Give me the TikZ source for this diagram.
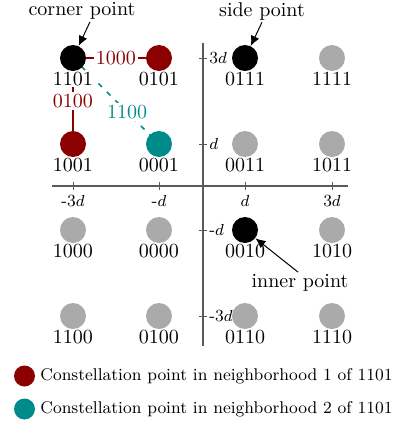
\documentclass[tikz,border=0pt]{standalone}
\usetikzlibrary{arrows.meta}
\definecolor{nbred}{RGB}{139,0,0}
\definecolor{nbteal}{RGB}{0,139,139}
\definecolor{ptgray}{RGB}{170,170,170}
\definecolor{axgray}{RGB}{90,90,90}
\tikzset{
  pt/.style={circle,fill=ptgray,minimum size=13pt,inner sep=0pt},
  ptblack/.style={circle,fill=black,minimum size=13pt,inner sep=0pt},
  ptred/.style={circle,fill=nbred,minimum size=13pt,inner sep=0pt},
  ptteal/.style={circle,fill=nbteal,minimum size=13pt,inner sep=0pt},
  bits/.style={font=\fontsize{10}{12}\selectfont,inner sep=0.8pt,fill=white},
  axis/.style={axgray,line width=0.6pt},
  tick/.style={axgray,line width=0.5pt},
  ticklab/.style={font=\fontsize{8.5}{10}\selectfont,inner sep=1pt},
  nblab/.style={font=\fontsize{10}{12}\selectfont,fill=white,inner sep=1pt},
  callout/.style={-{Latex[length=5pt,width=4.5pt]},line width=0.5pt},
  legdot/.style={circle,minimum size=10.5pt,inner sep=0pt},
  legtext/.style={font=\fontsize{8.5}{10}\selectfont,anchor=west,inner sep=0pt},
}
\begin{document}
\begin{tikzpicture}[x=0.5pt,y=-0.5pt]
\useasboundingbox (0,0) rectangle (393,424);
% axes
\coordinate (xl) at (52,186);
\coordinate (xr) at (348,186);
\coordinate (yt) at (203,43);
\coordinate (yb) at (203,346);
\draw[axis] (xl) -- (xr);
\draw[axis] (yt) -- (yb);
% x ticks
\foreach \x/\l in {73/-3$d$,159/-$d$,245/$d$,332/3$d$}{
  \draw[tick] (\x,182) -- (\x,190);
  \node[ticklab] at (\x,201) {\l};
}
% y ticks
\foreach \y/\l in {58/3$d$,144/$d$,230/-$d$,316/-3$d$}{
  \draw[tick] (199,\y) -- (207,\y);
  \node[ticklab,anchor=west] at (207,\y) {\l};
}
% neighborhood lines
\coordinate (c1101) at (73,58);
\coordinate (c0101) at (159,58);
\coordinate (c1001) at (73,144);
\coordinate (c0001) at (159,144);
\draw[nbred,line width=0.8pt] (c1101) -- node[nblab,text=nbred]{1000} (c0101);
\draw[nbred,line width=0.8pt] (c1101) -- node[nblab,text=nbred]{0100} (c1001);
\draw[nbteal,line width=0.8pt,dash pattern=on 2.5pt off 3.5pt] (c1101) -- node[nblab,text=nbteal,pos=0.63]{1100} (c0001);
% points
\foreach \x/\y/\b/\s in {
  73/58/1101/ptblack, 159/58/0101/ptred, 245/58/0111/ptblack, 332/58/1111/pt,
  73/144/1001/ptred, 159/144/0001/ptteal, 245/144/0011/pt, 332/144/1011/pt,
  73/230/1000/pt, 159/230/0000/pt, 245/230/0010/ptblack, 332/230/1010/pt,
  73/316/1100/pt, 159/316/0100/pt, 245/316/0110/pt, 332/316/1110/pt}{
  \node[\s] (p\b) at (\x,\y) {};
  \node[bits] (l\b) at (\x,79+\y-58) {\b};
}
% callouts
\node[font=\fontsize{10}{12}\selectfont,inner sep=1pt] (corner) at (82,11) {corner point};
\node[font=\fontsize{10}{12}\selectfont,inner sep=1pt] (side) at (262,11) {side point};
\node[font=\fontsize{10}{12}\selectfont,inner sep=1pt] (inner) at (300,283) {inner point};
\draw[callout] (corner.south -| 90,0) -- (p1101);
\draw[callout] (side.south -| 262,0) -- (p0111);
\draw[callout] (inner.north -| 298,0) -- (p0010);
% legend
\node[legdot,fill=nbred] (leg1) at (24.5,376) {};
\node[legdot,fill=nbteal] (leg2) at (24.5,409) {};
\node[legtext] (t1) at (40,376) {Constellation point in neighborhood 1 of 1101};
\node[legtext] (t2) at (40,409) {Constellation point in neighborhood 2 of 1101};
\end{tikzpicture}
\end{document}
